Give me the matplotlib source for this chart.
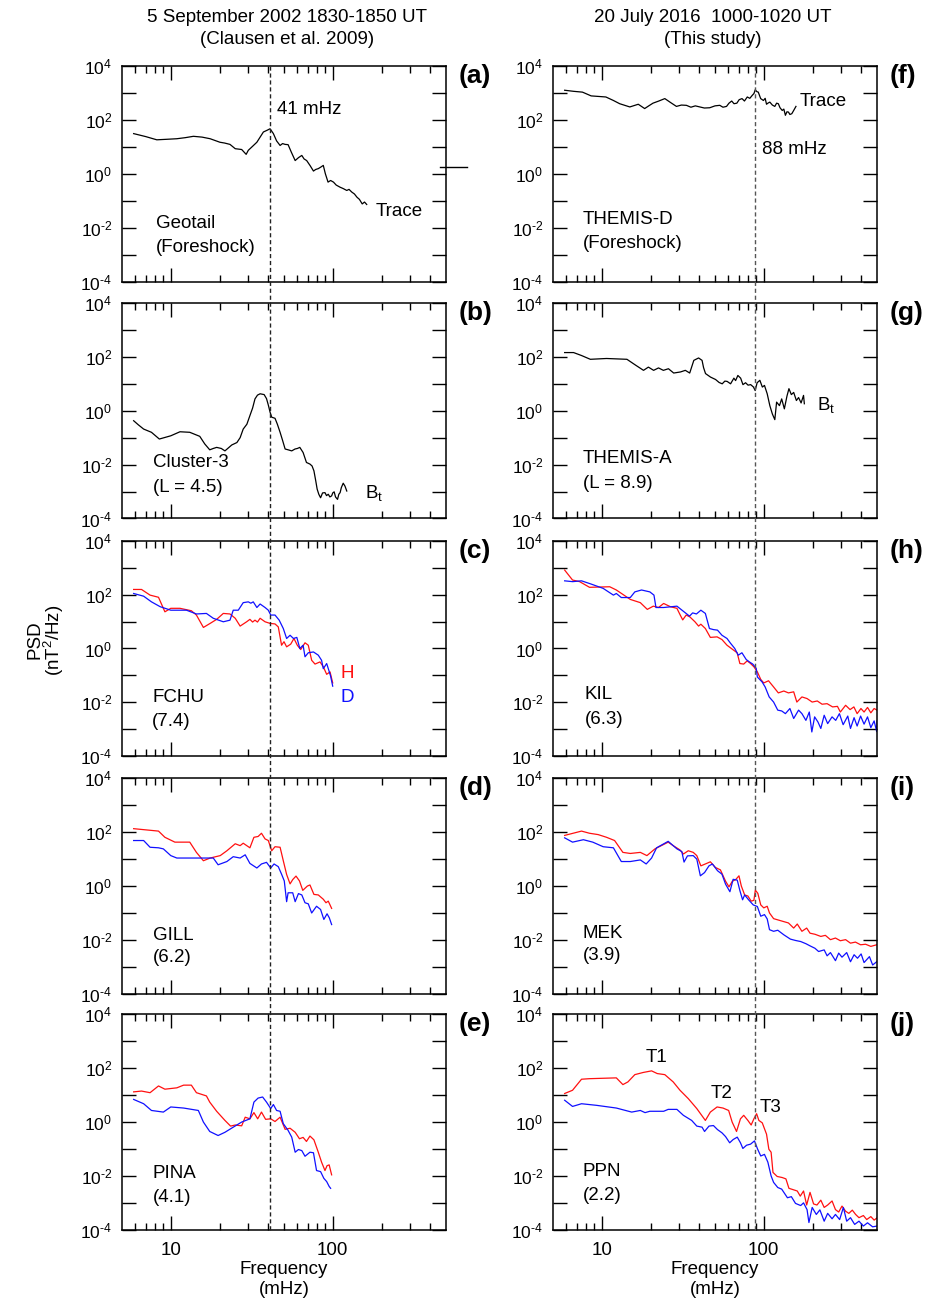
import matplotlib
matplotlib.use('Agg')
import matplotlib.pyplot as plt
from matplotlib.lines import Line2D
from matplotlib.ticker import FixedLocator, FixedFormatter, NullLocator, NullFormatter
from matplotlib.transforms import blended_transform_factory

plt.rcParams['font.family'] = ['Liberation Sans', 'DejaVu Sans']
plt.rcParams['mathtext.fontset'] = 'custom'
plt.rcParams['mathtext.rm'] = 'Liberation Sans'
plt.rcParams['mathtext.it'] = 'Liberation Sans:italic'
plt.rcParams['mathtext.bf'] = 'Liberation Sans:bold'

W, H = 934, 1301

# spectra: (frequency in mHz, log10 PSD in nT^2/Hz)
a_trace = [(5.9, 1.49), (7.0, 1.38), (8.2, 1.26), (9.5, 1.28), (10.9, 1.30), (12.3, 1.34), (13.8, 1.39),
           (15.6, 1.36), (17.5, 1.30), (20.1, 1.17), (21.5, 1.14), (23.2, 1.09), (25.0, 0.93), (27.4, 0.90),
           (29.2, 0.72), (30.1, 0.87), (32.0, 1.02), (34.0, 1.17), (37.3, 1.55), (39.5, 1.62), (41.0, 1.67),
           (43.0, 1.49), (45.0, 1.22), (47.3, 1.05), (49.0, 1.12), (50.8, 1.09), (53.0, 1.08), (55.5, 0.80),
           (58.6, 0.49), (61.5, 0.60), (64.4, 0.68), (66.5, 0.55), (69.0, 0.49), (72.5, 0.30), (76.0, 0.10),
           (78.5, 0.16), (81.4, 0.19), (84.5, 0.25), (87.4, 0.31), (90.0, 0.0), (93.5, -0.31), (97.0, -0.25),
           (101, -0.31), (105, -0.42), (111, -0.50), (116, -0.55), (122, -0.62), (126, -0.58), (131, -0.68),
           (136, -0.75), (141, -0.87), (146, -0.95), (152, -1.12), (157, -1.05), (162, -1.14)]

b_trace = [(5.9, -0.37), (6.3, -0.52), (6.8, -0.68), (7.6, -0.80), (8.5, -1.05), (10.0, -0.93), (11.4, -0.78),
           (13.1, -0.80), (15.1, -0.95), (16.2, -1.23), (17.4, -1.45), (18.3, -1.40), (19.2, -1.36),
           (20.5, -1.40), (21.6, -1.49), (23.8, -1.27), (25.6, -1.18), (26.8, -1.00), (28.0, -0.68),
           (29.5, -0.50), (30.8, -0.18), (32.0, 0.10), (33.1, 0.44), (34.3, 0.58), (35.6, 0.63), (37.7, 0.60),
           (39.0, 0.45), (40.1, 0.19), (41.0, -0.05), (42.0, -0.24), (44.0, -0.28), (45.5, -0.50),
           (47.3, -0.80), (49.0, -1.10), (50.8, -1.42), (53.0, -1.45), (55.8, -1.49), (58.5, -1.42),
           (60.5, -1.40), (62.6, -1.36), (64.0, -1.45), (65.6, -1.55), (68.8, -1.92), (72.3, -1.98),
           (74.5, -2.05), (76.5, -2.23), (78.5, -2.60), (80.1, -2.91), (82.0, -3.10), (84.1, -3.23),
           (86.5, -3.05), (89.5, -3.04), (91.5, -3.15), (93.8, -3.10), (96.0, -3.20), (98.4, -3.16),
           (100, -3.05), (102, -3.01), (104, -3.20), (107, -3.29), (109, -3.10), (111, -3.04), (113, -2.85),
           (116, -2.69), (119, -2.80), (122, -2.98)]

c_h = [(5.9, 2.19), (6.6, 2.19), (7.45, 1.98), (8.4, 1.90), (9.2, 1.36), (10.0, 1.49), (11.4, 1.49),
       (13.4, 1.40), (14.4, 1.24), (15.9, 0.78), (17.5, 0.93), (19.2, 1.08), (21.1, 1.30), (23.2, 1.28),
       (25.0, 1.12), (26.8, 0.83), (29.4, 0.99), (30.8, 1.08), (32.0, 0.98), (33.1, 1.05), (34.3, 0.98),
       (35.6, 1.12), (38.2, 0.99), (41.0, 0.93), (44.0, 0.91), (46.1, 0.80), (48.3, 0.12), (50.0, 0.25),
       (51.9, 0.06), (55.0, 0.16), (57.6, 0.37), (60.4, 0.12), (63.4, -0.04), (67.4, 0.21), (70.6, 0.12),
       (74.1, -0.44), (77.7, -0.58), (83.4, -0.50), (87.4, -0.68), (91.7, -0.96), (96.2, -0.87),
       (99.9, -1.28)]
c_d = [(5.9, 2.04), (6.8, 1.94), (7.6, 1.73), (8.6, 1.55), (10.0, 1.42), (12.5, 1.42), (14.4, 1.28),
       (16.6, 1.30), (18.3, 1.12), (21.1, 0.99), (23.2, 1.05), (24.3, 1.42), (26.1, 1.42), (28.0, 1.70),
       (30.1, 1.73), (31.2, 1.68), (32.3, 1.73), (34.0, 1.52), (35.6, 1.65), (38.2, 1.52), (40.0, 1.42),
       (41.4, 1.24), (44.0, 1.24), (46.7, 1.05), (49.5, 0.74), (51.9, 0.37), (54.5, 0.49), (57.2, 0.37),
       (60.0, 0.41), (62.6, 0.00), (65.6, 0.12), (67.4, -0.31), (70.6, -0.16), (76.0, -0.13), (81.4, -0.25),
       (85.3, -0.44), (87.4, -0.75), (91.7, -0.56), (95.2, -0.87), (97.0, -1.03), (99.9, -1.40)]

d_h = [(5.9, 2.13), (8.4, 2.04), (9.2, 1.81), (10.6, 1.63), (13.1, 1.63), (14.4, 1.25), (15.9, 0.94),
       (17.5, 1.04), (20.2, 1.13), (22.2, 1.31), (25.0, 1.57), (26.8, 1.50), (28.0, 1.59), (30.8, 1.42),
       (32.6, 1.81), (34.6, 1.84), (36.3, 1.96), (38.2, 1.75), (40.0, 1.69), (42.0, 1.31), (44.0, 1.46),
       (47.3, 1.44), (49.5, 0.94), (51.9, 0.43), (54.5, 0.08), (56.6, 0.24), (59.3, 0.37), (62.3, 0.19),
       (65.3, -0.16), (69.7, 0.00), (72.3, 0.04), (76.5, -0.31), (81.4, -0.33), (87.4, -0.49), (90.8, -0.62),
       (93.8, -0.56), (98.4, -0.83)]
d_d = [(5.9, 1.69), (6.8, 1.69), (7.45, 1.44), (8.4, 1.42), (9.0, 1.38), (10.0, 1.13), (10.9, 1.04),
       (15.1, 1.04), (18.3, 1.04), (19.6, 0.79), (22.2, 0.91), (24.3, 1.09), (26.8, 1.04), (28.8, 1.16),
       (30.8, 0.84), (34.0, 0.67), (36.3, 0.82), (39.0, 0.88), (41.4, 0.67), (43.4, 0.82), (46.1, 0.72),
       (48.3, 0.44), (50.2, 0.19), (51.9, -0.58), (53.0, -0.25), (56.6, -0.25), (58.6, -0.58), (61.4, -0.28),
       (64.4, -0.33), (67.4, -0.62), (70.6, -0.66), (74.1, -1.00), (79.4, -0.75), (84.1, -0.87),
       (88.1, -1.24), (92.2, -1.03), (95.2, -1.18), (98.4, -1.43)]

e_h = [(5.9, 1.12), (6.6, 1.15), (7.45, 1.09), (8.4, 1.34), (9.2, 1.22), (10.9, 1.27), (12.0, 1.37),
       (13.4, 1.37), (14.4, 1.09), (16.6, 0.97), (17.4, 0.74), (19.2, 0.40), (21.6, 0.06), (23.4, -0.15),
       (25.0, -0.11), (27.4, -0.14), (28.8, 0.18), (30.8, 0.12), (32.6, 0.35), (34.4, 0.12), (36.3, 0.37),
       (38.5, 0.10), (41.4, 0.12), (44.0, 0.02), (47.3, 0.18), (50.8, -0.27), (54.5, -0.23), (58.6, -0.38),
       (62.3, -0.62), (65.6, -0.57), (68.8, -0.72), (72.3, -0.52), (76.5, -0.66), (81.4, -1.12),
       (85.3, -1.49), (89.5, -1.80), (92.2, -1.62), (95.0, -1.59), (98.4, -1.96)]
e_d = [(5.9, 0.84), (6.8, 0.68), (7.6, 0.43), (9.0, 0.37), (10.0, 0.56), (12.0, 0.52), (14.8, 0.43),
       (15.9, 0.00), (17.4, -0.35), (19.6, -0.50), (21.6, -0.38), (24.3, -0.19), (27.4, 0.00), (30.8, 0.12),
       (32.6, 0.74), (34.6, 0.89), (36.9, 0.93), (39.0, 0.74), (41.4, 0.50), (43.0, 0.65), (45.0, 0.43),
       (47.3, 0.40), (49.5, -0.06), (53.0, -0.31), (55.8, -0.56), (58.6, -1.12), (61.4, -1.02),
       (64.4, -1.06), (67.4, -1.27), (72.3, -1.12), (76.0, -1.14), (79.4, -1.80), (84.1, -1.84),
       (88.1, -2.09), (91.7, -2.21), (95.0, -2.39), (97.0, -2.46)]

f_trace = [(5.9, 3.10), (6.7, 3.06), (7.6, 3.03), (8.6, 2.89), (10.6, 2.85), (11.8, 2.72), (12.9, 2.60),
           (14.9, 2.48), (16.8, 2.58), (18.4, 2.42), (19.5, 2.52), (20.7, 2.62), (22.5, 2.70), (24.5, 2.79),
           (26.5, 2.65), (28.9, 2.50), (31.0, 2.55), (33.3, 2.54), (35.5, 2.47), (37.8, 2.52), (40.3, 2.48),
           (43.0, 2.44), (46.4, 2.45), (50.0, 2.52), (53.5, 2.54), (56.0, 2.47), (58.9, 2.50), (61.0, 2.62),
           (63.4, 2.70), (65.5, 2.60), (68.2, 2.62), (70.5, 2.75), (73.4, 2.79), (76.0, 2.70), (79.1, 2.85),
           (82.0, 2.80), (84.9, 2.91), (87.0, 2.98), (88.6, 3.12), (90.5, 3.05), (92.5, 3.03), (95.7, 2.79),
           (99.5, 2.72), (102, 2.80), (104, 2.58), (106, 2.62), (109, 2.66), (113, 2.55), (117, 2.50),
           (120, 2.62), (123, 2.60), (126, 2.45), (130, 2.35), (133, 2.40), (136, 2.17), (139, 2.30),
           (142, 2.29), (145, 2.20), (149, 2.23), (153, 2.35), (158, 2.50)]

g_trace = [(5.9, 2.16), (6.7, 2.16), (7.5, 2.05), (8.5, 1.91), (10.7, 1.94), (14.3, 1.91), (16.2, 1.69),
           (18.1, 1.50), (19.4, 1.62), (20.9, 1.50), (22.4, 1.59), (24.0, 1.50), (25.8, 1.56), (27.8, 1.40),
           (30.6, 1.44), (32.8, 1.50), (34.9, 1.40), (36.0, 1.65), (37.0, 1.87), (39.6, 1.96), (41.6, 1.87),
           (42.5, 1.60), (43.7, 1.38), (46.9, 1.25), (50.4, 1.16), (53.0, 1.05), (55.4, 1.00), (57.5, 1.10),
           (59.4, 1.09), (62.4, 1.00), (65.4, 1.21), (67.0, 1.12), (69.2, 1.31), (72.0, 1.21), (74.4, 0.97),
           (77.2, 1.04), (80.0, 0.95), (83.0, 0.97), (86.4, 0.88), (88.5, 0.75), (91.0, 1.04), (94.6, 1.13),
           (98.0, 0.88), (101, 0.94), (105, 0.63), (109, 0.19), (113, -0.12), (117, -0.33), (120, 0.32),
           (125, 0.19), (129, 0.44), (134, 0.07), (139, 0.54), (143, 0.82), (148, 0.60), (153, 0.68),
           (159, 0.38), (164, 0.49), (170, 0.29), (176, 0.57), (178, 0.26)]

h_h = [(5.9, 2.91), (6.6, 2.54), (7.3, 2.48), (8.4, 2.27), (11.2, 2.29), (12.3, 2.17), (15.0, 1.82),
       (17.3, 1.70), (19.1, 1.45), (20.8, 1.57), (22.4, 1.52), (24.1, 1.67), (26.5, 1.55), (29.1, 1.49),
       (30.5, 1.24), (31.6, 1.06), (33.2, 1.24), (35.0, 1.17), (37.6, 0.99), (39.6, 0.83), (40.9, 0.90),
       (43.6, 0.74), (46.8, 0.41), (51.5, 0.43), (55.2, 0.33), (59.3, 0.12), (65.0, -0.06), (68.5, -0.16),
       (71.2, -0.56), (75.2, -0.58), (79.0, -0.46), (82.9, -0.56), (86.9, -0.68), (91.3, -0.87),
       (95.8, -1.15), (100, -1.28), (107, -1.20), (115, -1.43), (123, -1.65), (133, -1.58), (142, -1.65),
       (153, -1.61), (160, -1.99), (172, -1.80), (185, -1.86), (199, -1.99), (214, -1.95), (229, -2.07),
       (246, -2.05), (266, -2.17), (285, -2.15), (297, -2.36), (320, -2.11), (341, -2.27), (360, -2.17),
       (377, -2.42), (398, -2.23), (416, -2.36), (437, -2.19), (458, -2.39), (480, -2.23), (500, -2.29)]
h_d = [(5.9, 2.51), (6.6, 2.48), (7.5, 2.51), (8.6, 2.39), (10.2, 2.23), (11.8, 1.98), (12.3, 2.04),
       (13.2, 1.89), (15.0, 1.89), (16.0, 2.10), (17.6, 2.17), (19.8, 2.10), (21.0, 1.98), (21.6, 1.52),
       (24.1, 1.52), (29.1, 1.57), (32.2, 1.36), (34.8, 1.20), (36.4, 1.32), (38.4, 1.28), (40.9, 1.42),
       (43.6, 1.30), (46.2, 0.74), (48.9, 0.70), (51.8, 0.68), (55.2, 0.49), (59.3, 0.37), (62.4, 0.19),
       (66.2, 0.00), (69.6, -0.25), (73.3, -0.16), (77.9, -0.41), (81.5, -0.50), (85.5, -0.58),
       (89.8, -0.74), (91.3, -1.06), (97.6, -1.24), (102, -1.43), (108, -1.80), (115, -1.99), (122, -2.29),
       (129, -2.32), (136, -2.42), (145, -2.23), (153, -2.60), (164, -2.29), (172, -2.42), (182, -2.67),
       (191, -2.36), (198, -3.10), (206, -2.54), (216, -2.73), (225, -2.97), (236, -2.48), (248, -2.79),
       (264, -2.54), (278, -2.67), (293, -2.42), (309, -2.83), (330, -2.51), (343, -2.97), (361, -2.57),
       (377, -2.88), (396, -2.51), (416, -2.81), (437, -2.54), (458, -2.94), (480, -2.69), (498, -3.09),
       (500, -2.69)]

i_h = [(5.9, 1.88), (7.5, 2.04), (8.4, 1.96), (9.5, 1.91), (10.7, 1.81), (12.0, 1.69), (13.5, 1.25),
       (15.0, 1.21), (17.3, 1.25), (19.0, 1.13), (21.3, 1.38), (25.7, 1.63), (27.6, 1.50), (30.4, 1.34),
       (31.9, 1.19), (34.2, 1.31), (36.7, 1.25), (38.6, 1.13), (40.9, 0.75), (43.6, 0.82), (46.8, 0.90),
       (50.3, 0.69), (54.0, 0.60), (58.1, 0.18), (61.0, -0.03), (64.0, 0.18), (67.1, 0.24), (70.3, 0.38),
       (72.7, 0.00), (76.2, -0.33), (79.8, -0.37), (83.6, -0.56), (86.9, -0.53), (88.7, -0.15),
       (91.9, -0.27), (95.8, -0.70), (100, -0.81), (105, -0.75), (108.5, -1.00), (115, -1.21), (126, -1.28),
       (142, -1.37), (153, -1.56), (161, -1.41), (172, -1.68), (184, -1.56), (193, -1.75), (207, -1.79),
       (225, -1.87), (240, -1.83), (258, -1.99), (277, -1.93), (297, -2.03), (320, -1.99), (343, -2.12),
       (368, -2.08), (396, -2.18), (425, -2.16), (458, -2.24), (498, -2.18)]
i_d = [(5.9, 1.79), (6.6, 1.63), (7.7, 1.72), (8.8, 1.63), (10.2, 1.46), (11.8, 1.42), (13.2, 0.91),
       (15.0, 0.91), (17.3, 0.97), (18.8, 0.82), (20.3, 1.04), (21.8, 1.42), (25.7, 1.66), (29.1, 1.38),
       (31.2, 1.28), (32.2, 0.89), (33.8, 1.12), (36.7, 1.13), (38.6, 1.00), (40.6, 0.38), (43.1, 0.50),
       (45.9, 0.75), (48.2, 0.82), (51.8, 0.57), (55.2, 0.44), (58.1, 0.07), (61.8, -0.21), (64.7, 0.25),
       (68.6, 0.22), (71.3, -0.18), (74.0, -0.51), (76.2, -0.33), (80.6, -0.51), (86.1, -0.70),
       (91.3, -0.76), (95.8, -1.12), (101, -1.06), (105, -1.22), (108.5, -1.62), (115, -1.68), (122, -1.64),
       (133, -1.81), (146, -1.97), (157, -2.02), (169, -2.06), (182, -2.14), (193, -2.22), (207, -2.31),
       (218, -2.43), (236, -2.37), (246, -2.59), (258, -2.47), (277, -2.77), (290, -2.49), (304, -2.64),
       (325, -2.47), (343, -2.81), (361, -2.55), (379, -2.68), (399, -2.52), (416, -2.84), (449, -2.62),
       (470, -2.93), (498, -2.81)]

j_h = [(5.9, 1.06), (6.6, 1.18), (7.5, 1.59), (8.4, 1.61), (12.3, 1.64), (13.5, 1.39), (14.5, 1.49),
       (16.0, 1.76), (18.0, 1.84), (20.3, 1.90), (22.0, 1.80), (24.5, 1.76), (27.6, 1.49), (30.4, 1.18),
       (34.2, 0.87), (38.6, 0.50), (43.6, 0.06), (46.8, 0.37), (51.5, 0.56), (56.0, 0.52), (60.7, 0.43),
       (63.8, 0.00), (67.9, -0.35), (71.8, 0.12), (75.2, 0.25), (79.8, 0.06), (83.6, -0.11), (86.9, 0.12),
       (90.3, 0.31), (93.3, 0.06), (97.9, -0.03), (104, -0.45), (107.5, -1.01), (111, -1.12), (114, -1.87),
       (121, -2.02), (130, -2.06), (137, -2.11), (143, -2.46), (150, -2.50), (161, -2.56), (168, -2.75),
       (176, -2.56), (184, -3.08), (193, -2.61), (203, -3.04), (213, -3.08), (225, -2.90), (236, -3.17),
       (248, -3.08), (264, -2.93), (277, -3.25), (290, -3.34), (304, -3.12), (320, -3.31), (335, -3.39),
       (352, -3.27), (369, -3.43), (387, -3.55), (412, -3.47), (432, -3.62), (458, -3.51), (480, -3.64),
       (500, -3.56)]
j_d = [(5.9, 0.81), (6.6, 0.58), (7.5, 0.68), (9.3, 0.62), (12.3, 0.52), (15.3, 0.37), (17.3, 0.43),
       (18.5, 0.35), (19.8, 0.40), (24.1, 0.40), (25.7, 0.47), (29.1, 0.47), (31.9, 0.25), (35.9, 0.06),
       (38.6, -0.15), (41.6, -0.19), (43.1, -0.35), (45.9, -0.15), (48.9, -0.13), (51.8, -0.28),
       (55.2, -0.40), (58.1, -0.54), (61.6, -0.77), (64.7, -0.65), (68.6, -0.56), (71.8, -0.77),
       (74.3, -0.98), (78.3, -0.86), (82.9, -0.82), (87.6, -0.70), (91.7, -1.01), (95.8, -1.26),
       (101, -1.20), (106, -1.49), (111, -2.00), (115, -2.24), (122, -2.43), (129, -2.49), (140, -2.81),
       (148, -2.77), (157, -3.02), (169, -3.10), (176, -3.00), (185, -3.25), (190, -3.73), (199, -3.17),
       (211, -3.43), (222, -3.26), (236, -3.68), (248, -3.39), (264, -3.59), (277, -3.43), (294, -3.62),
       (310, -3.17), (325, -3.68), (343, -3.55), (364, -3.80), (387, -3.68), (412, -3.86), (437, -3.74),
       (470, -3.89), (500, -3.86)]

left_spectra = [[a_trace], [b_trace], [c_h, c_d], [d_h, d_d], [e_h, e_d]]
right_spectra = [[f_trace], [g_trace], [h_h, h_d], [i_h, i_d], [j_h, j_d]]
left_tags = ['(a)', '(b)', '(c)', '(d)', '(e)']
right_tags = ['(f)', '(g)', '(h)', '(i)', '(j)']
peak_left = 41    # mHz
peak_right = 88   # mHz

x_ticks = [10, 100]
x_labels = ['10', '100']
y_exps = list(range(-4, 5))


def px(x, y):
    return x / W, 1 - y / H


fig = plt.figure(figsize=(W / 100, H / 100), dpi=100)

col_left = [122, 553]
ax_w = 324
row_top = [66, 303, 540.7, 778.3, 1014.3]
ax_h = 215.5


def exp_label(k):
    if k % 2:
        return ''
    if k < 0:
        return r'$\mathregular{10^{\text{-}%d}}$' % (-k)
    return r'$\mathregular{10^{%d}}$' % k


def style_axes(ax, bottom):
    ax.set_xscale('log')
    ax.set_yscale('log')
    ax.set_xlim(5, 500)
    ax.set_ylim(1e-4, 1e4)
    ax.xaxis.set_major_locator(FixedLocator(x_ticks))
    ax.xaxis.set_minor_locator(FixedLocator([6, 7, 8, 9, 20, 30, 40, 50, 60, 70, 80, 90, 200, 300, 400]))
    ax.xaxis.set_minor_formatter(NullFormatter())
    if bottom:
        ax.xaxis.set_major_formatter(FixedFormatter(x_labels))
    else:
        ax.xaxis.set_major_formatter(NullFormatter())
    ax.yaxis.set_major_locator(FixedLocator([10.0 ** k for k in y_exps]))
    ax.yaxis.set_major_formatter(FixedFormatter([exp_label(k) for k in y_exps]))
    ax.yaxis.set_minor_locator(NullLocator())
    ax.tick_params(which='both', direction='in', top=True, right=True, width=1.0, colors='black')
    ax.tick_params(which='major', length=10)
    ax.tick_params(which='minor', length=5)
    ax.tick_params(axis='y', labelsize=12.5, pad=7)
    ax.tick_params(axis='x', labelsize=13.5, pad=9)
    for s in ax.spines.values():
        s.set_linewidth(1.1)


axes = {}
for c, (spectra, tags) in enumerate([(left_spectra, left_tags), (right_spectra, right_tags)]):
    for r in range(5):
        x0, y0 = px(col_left[c], row_top[r] + ax_h)
        ax = fig.add_axes([x0, y0, ax_w / W, ax_h / H])
        style_axes(ax, r == 4)
        series = spectra[r]
        colors = ['black'] if len(series) == 1 else ['#ff1010', '#1010ff']
        for pts, col in zip(series, colors):
            fr = [p[0] for p in pts]
            pw = [10.0 ** p[1] for p in pts]
            ax.plot(fr, pw, color=col, lw=0.9)
        tx, ty = px(col_left[c] + ax_w + 13, row_top[r] - 2)
        fig.text(tx, ty, tags[r], fontsize=19, fontweight='bold', ha='left', va='top')
        axes[(c, r)] = ax

# dashed marker lines through each column
for c, f0, col in [(0, peak_left, '#222222'), (1, peak_right, '#555555')]:
    tr = blended_transform_factory(axes[(c, 0)].transData, fig.transFigure)
    fig.add_artist(Line2D([f0, f0], [1 - row_top[0] / H, 1 - (row_top[4] + ax_h) / H],
                          transform=tr, color=col, lw=1.0, linestyle=(0, (3, 2))))

# stray tick mark beside panel (a)
fig.add_artist(Line2D([440 / W, 467 / W], [1 - 167 / H, 1 - 167 / H], color='black', lw=1.0))

fs = 13.5


def label(x, y, s, color='black', ha='left'):
    fx, fy = px(x, y)
    fig.text(fx, fy, s, fontsize=fs, color=color, ha=ha, va='center')


# column headers
label(287, 17, '5 September 2002 1830-1850 UT', ha='center')
label(287, 39, '(Clausen et al. 2009)', ha='center')
label(713, 17, '20 July 2016  1000-1020 UT', ha='center')
label(713, 40, '(This study)', ha='center')

# panel annotations
label(277, 110, '41 mHz')
label(376, 212, 'Trace')
label(156, 223, 'Geotail')
label(156, 247, '(Foreshock)')
label(800, 102, 'Trace')
label(762, 150, '88 mHz')
label(583, 220, 'THEMIS-D')
label(583, 244, '(Foreshock)')

label(153, 463, 'Cluster-3')
label(153, 487, '(L = 4.5)')
label(365, 493, r'$\mathregular{B_t}$')
label(583, 459, 'THEMIS-A')
label(583, 483, '(L = 8.9)')
label(817, 405, r'$\mathregular{B_t}$')

label(152, 697, 'FCHU')
label(152, 722, '(7.4)')
label(341, 674, 'H', color='#ff1010')
label(340, 697, 'D', color='#1010ff')
label(585, 694, 'KIL')
label(585, 719, '(6.3)')

label(153, 936, 'GILL')
label(153, 958, '(6.2)')
label(583, 933, 'MEK')
label(583, 956, '(3.9)')

label(153, 1173, 'PINA')
label(153, 1198, '(4.1)')
label(583, 1172, 'PPN')
label(583, 1195, '(2.2)')
label(656, 1057, 'T1', ha='center')
label(722, 1093, 'T2', ha='center')
label(770, 1107, 'T3', ha='center')

# axis titles
for xc in (284, 715):
    label(xc, 1270, 'Frequency', ha='center')
    label(xc, 1289, '(mHz)', ha='center')

fx, fy = px(35, 640)
fig.text(fx, fy, 'PSD', fontsize=fs, rotation=90, ha='center', va='center')
fx, fy = px(54, 640)
fig.text(fx, fy, r'(nT$\mathregular{^2}$/Hz)', fontsize=fs, rotation=90, ha='center', va='center')

fig.savefig('out.png', dpi=100)
